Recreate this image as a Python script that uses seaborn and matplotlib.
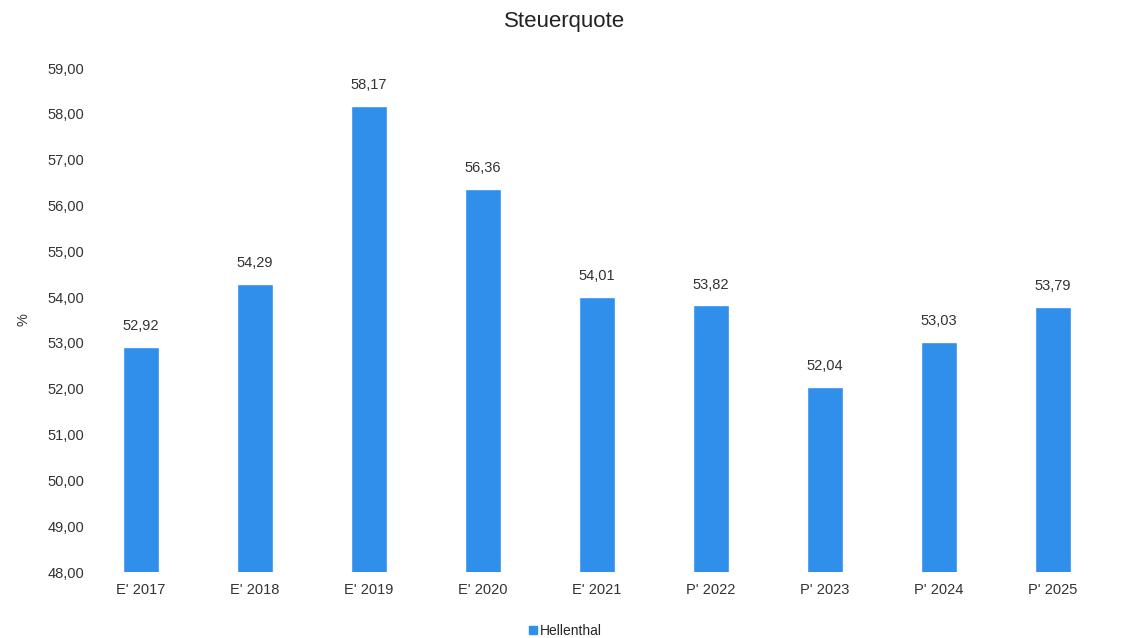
import matplotlib
matplotlib.use("Agg")
import matplotlib.pyplot as plt
import seaborn as sns
import pandas as pd
from matplotlib.lines import Line2D

# Data
categories = ["E' 2017", "E' 2018", "E' 2019", "E' 2020", "E' 2021",
              "P' 2022", "P' 2023", "P' 2024", "P' 2025"]
values = [52.92, 54.29, 58.17, 56.36, 54.01, 53.82, 52.04, 53.03, 53.79]
series_name = "Hellenthal"

df = pd.DataFrame({"Jahr": categories, "Wert": values})

sns.set_theme(style="white")
plt.rcParams['font.family'] = ['Liberation Sans', 'DejaVu Sans']

bar_color = "#2F8FEA"

fig = plt.figure(figsize=(11.29, 6.38), dpi=100)
ax = fig.add_axes([0.0744, 0.1034, 0.9086, 0.79])

sns.barplot(data=df, x="Jahr", y="Wert", color=bar_color, width=0.32,
            saturation=1, ax=ax)

ax.set_ylim(48, 59)
ax.set_yticks(range(48, 60))
ax.set_yticklabels([f"{t},00" for t in range(48, 60)], fontsize=10.5, color="#333333")
ax.tick_params(axis="x", labelsize=10.5, labelcolor="#333333", length=0, pad=8)
ax.tick_params(axis="y", length=0, pad=0)
ax.set_xlabel("")
ax.set_ylabel("%", fontsize=10.5, color="#333333", labelpad=12)
for s in ax.spines.values():
    s.set_visible(False)

# value labels
for c, v in zip(range(len(values)), values):
    ax.text(c, v + 0.3, f"{v:.2f}".replace(".", ","), ha="center", va="bottom",
            fontsize=10.5, color="#333333")

fig.suptitle("Steuerquote", fontsize=16, y=0.982, color="#222222")

handle = Line2D([0], [0], marker="s", color="none", markerfacecolor=bar_color,
                markeredgecolor=bar_color, markersize=6)
fig.legend([handle], [series_name], loc="lower center", bbox_to_anchor=(0.5, -0.02),
           frameon=False, fontsize=10, handletextpad=0.1, handlelength=0.8)

fig.savefig("out.png", dpi=100)
